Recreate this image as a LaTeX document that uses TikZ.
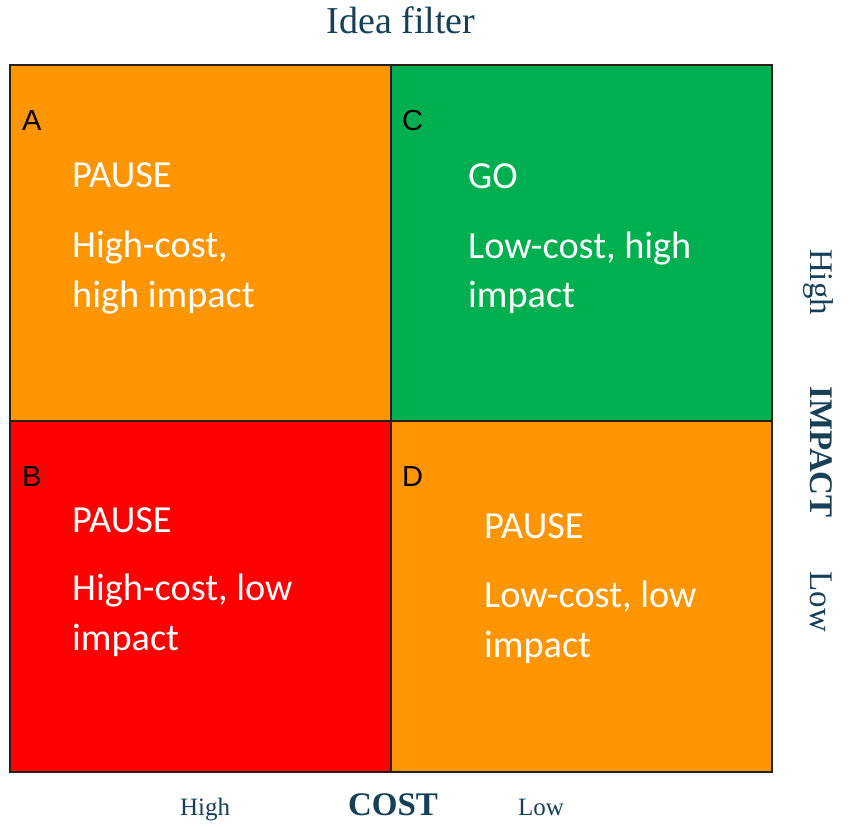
\documentclass[tikz,border=0pt]{standalone}
\usepackage{fontspec}
\setmainfont{Liberation Serif}
\newfontfamily\calfont{Carlito}
\newfontfamily\arialfont{Liberation Sans}
\definecolor{qorange}{RGB}{255,149,0}
\definecolor{qgreen}{RGB}{0,176,80}
\definecolor{qred}{RGB}{255,0,0}
\definecolor{teal}{RGB}{22,64,88}
\definecolor{edge}{RGB}{40,30,20}
\begin{document}
\begin{tikzpicture}[x=1pt,y=-1pt,
  quad/.style={draw=edge,line width=1.6pt,inner sep=0pt,outer sep=0pt,anchor=north west},
  letter/.style={anchor=base west,inner sep=0pt,font=\arialfont\fontsize{29}{29}\selectfont,text=black},
  qtext/.style={anchor=base west,inner sep=0pt,font=\calfont\fontsize{38.3}{50}\selectfont,text=white},
  axis/.style={inner sep=0pt,text=teal}]
\useasboundingbox (0,0) rectangle (850,826);
% quadrants
\node[quad,fill=qorange,minimum width=381pt,minimum height=356pt] (qa) at (10,65) {};
\node[quad,fill=qgreen,minimum width=381pt,minimum height=356pt] (qc) at (391,65) {};
\node[quad,fill=qred,minimum width=381pt,minimum height=351pt] (qb) at (10,421) {};
\node[quad,fill=qorange,minimum width=381pt,minimum height=351pt] (qd) at (391,421) {};
% letters
\node[letter] (la) at (22,131) {A};
\node[letter] (lc) at (402,131) {C};
\node[letter] (lb) at (22,486) {B};
\node[letter] (ld) at (402,486) {D};
% quadrant texts
\node[qtext] (ta1) at (72,188) {PAUSE};
\node[qtext] (ta2) at (72,257) {High-cost,};
\node[qtext] (ta3) at (72,307) {high impact};
\node[qtext] (tc1) at (468,189) {GO};
\node[qtext] (tc2) at (468,258) {Low-cost, high};
\node[qtext] (tc3) at (468,307) {impact};
\node[qtext] (tb1) at (72,532) {PAUSE};
\node[qtext] (tb2) at (72,600) {High-cost, low};
\node[qtext] (tb3) at (72,650) {impact};
\node[qtext] (td1) at (484,538) {PAUSE};
\node[qtext] (td2) at (484,607) {Low-cost, low};
\node[qtext] (td3) at (484,657) {impact};
% title and axes
\node[axis,anchor=base,font=\fontsize{38}{38}\selectfont] (title) at (401,34) {Idea filter};
\node[axis,anchor=base,font=\fontsize{25}{25}\selectfont] (chigh) at (205,815) {High};
\node[axis,anchor=base,font=\bfseries\fontsize{33}{33}\selectfont] (cost) at (393,815) {COST};
\node[axis,anchor=base,font=\fontsize{25}{25}\selectfont] (clow) at (541,815) {Low};
\node[axis,anchor=base,rotate=-90,font=\fontsize{33}{33}\selectfont] (ihigh) at (810,282) {High};
\node[axis,anchor=base,rotate=-90,font=\bfseries\fontsize{33}{33}\selectfont] (impact) at (810,452) {IMPACT};
\node[axis,anchor=base,rotate=-90,font=\fontsize{33}{33}\selectfont] (ilow) at (810,602) {Low};
\end{tikzpicture}
\end{document}
